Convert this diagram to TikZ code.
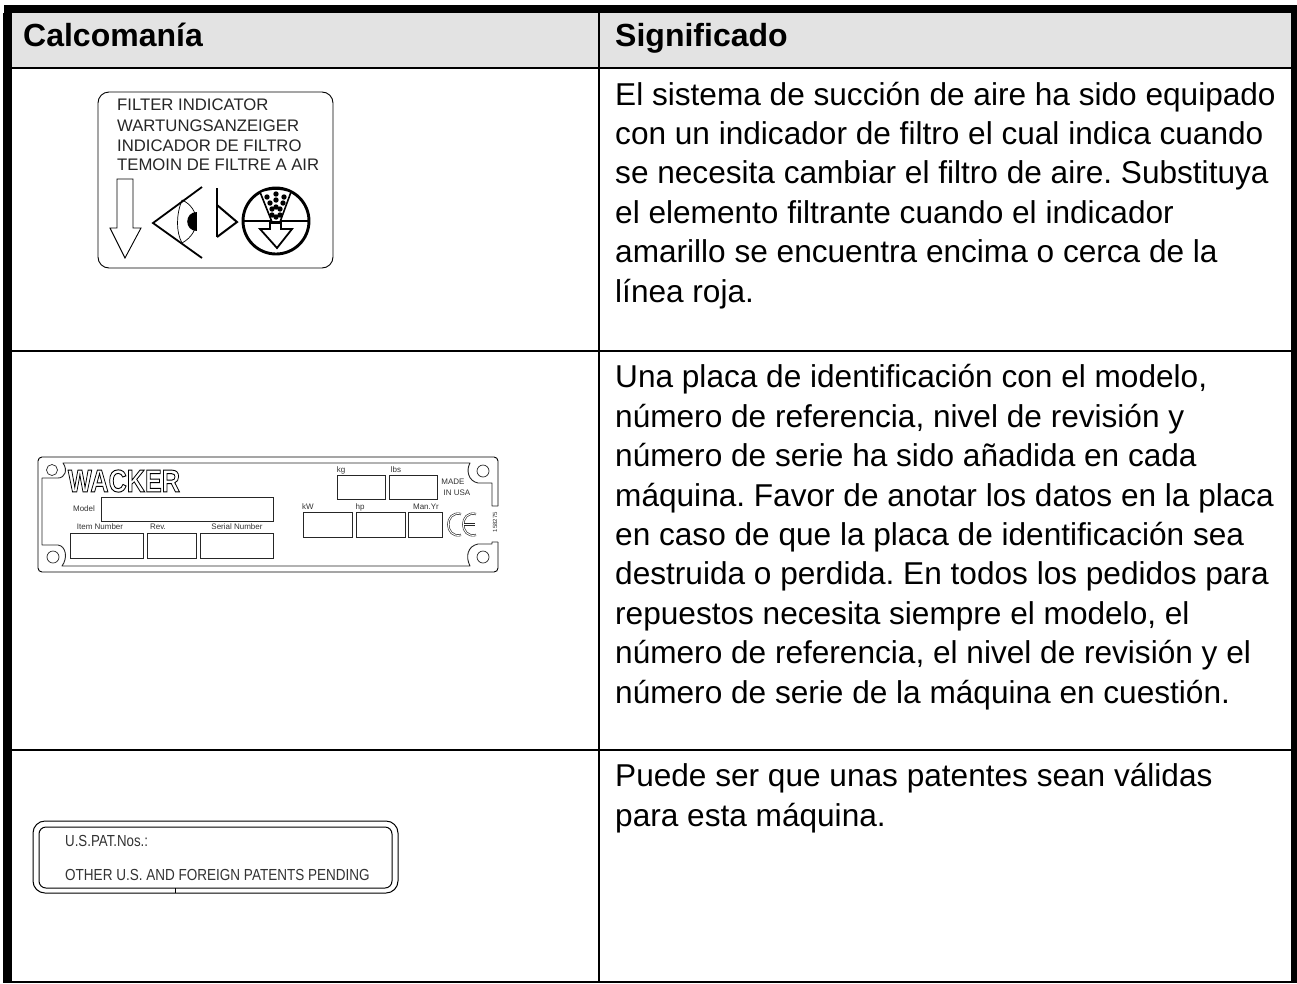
\documentclass[tikz,border=0pt]{standalone}
\usepackage{graphicx}
\usepackage{fontspec}
\setmainfont{Liberation Sans}
\frenchspacing
\newcommand{\outlinetext}[1]{\special{pdf:code 1 Tr 0.3 w}#1\special{pdf:code 0 Tr}}
\begin{document}
\begin{tikzpicture}[x=1pt,y=-1pt,
  rulefill/.style={fill=black,draw=none},
  bodytext/.style={anchor=base west,inner sep=0pt,align=left,font=\fontsize{31.6}{39.4}\selectfont},
  headtext/.style={anchor=base west,inner sep=0pt,font=\fontsize{32}{36}\selectfont\bfseries},
  decal/.style={draw=black,line width=1.1pt},
  box/.style={draw=black!85,line width=.9pt},
  small/.style={inner sep=0pt,font=\fontsize{8}{9}\selectfont,text=black!80},
  filtertext/.style={anchor=west,inner sep=0pt,font=\fontsize{16.7}{18}\selectfont,text=black!85},
  pattext/.style={anchor=west,inner sep=0pt,font=\fontsize{16}{17}\selectfont,text=black!80}]
\useasboundingbox (0,0) rectangle (1297,983);
\fill[white] (0,0) rectangle (1297,983);
% table
\fill[black!11] (12,13) rectangle (1291,67);
\fill[rulefill] (4,5) rectangle (1297,13);
\fill[rulefill] (3,13) rectangle (12,983);
\fill[rulefill] (1291,13) rectangle (1297,983);
\fill[rulefill] (12,67) rectangle (1291,69);
\fill[rulefill] (12,350) rectangle (1291,352);
\fill[rulefill] (12,749) rectangle (1291,751);
\fill[rulefill] (598,13) rectangle (600,983);
\fill[rulefill] (3,981) rectangle (1297,983);
\node[headtext] (h1) at (23,46) {Calcomanía};
\node[headtext] (h2) at (615,46) {Significado};
\node[bodytext] (t1) at (615,302) {El sistema de succión de aire ha sido equipado\\con un indicador de filtro el cual indica cuando\\se necesita cambiar el filtro de aire. Substituya\\el elemento filtrante cuando el indicador\\amarillo se encuentra encima o cerca de la\\línea roja.};
\node[bodytext] (t2) at (615,703) {Una placa de identificación con el modelo,\\número de referencia, nivel de revisión y\\número de serie ha sido añadida en cada\\máquina. Favor de anotar los datos en la placa\\en caso de que la placa de identificación sea\\destruida o perdida. En todos los pedidos para\\repuestos necesita siempre el modelo, el\\número de referencia, el nivel de revisión y el\\número de serie de la máquina en cuestión.};
\node[bodytext] (t3) at (615,826) {Puede ser que unas patentes sean válidas\\para esta máquina.};
% filter decal
\draw[decal,line width=.9pt,rounded corners=11pt] (98,92) rectangle (333,268);
\node[filtertext] (f1) at (117,105) {FILTER INDICATOR};
\node[filtertext] (f2) at (117,125.5) {WARTUNGSANZEIGER};
\node[filtertext] (f3) at (117,145.5) {INDICADOR DE FILTRO};
\node[filtertext] (f4) at (117,165) {TEMOIN DE FILTRE A AIR};
\draw[decal,line width=.9pt] (117,179) -- (133,179) -- (133,228) -- (141,228) -- (125,258) -- (110,228) -- (117,228) -- cycle;
\draw[decal,line width=1.8pt] (202,187) -- (153,223) -- (202,258);
\draw[decal,line width=.7pt] (182,200) .. controls (176,215) and (176,232) .. (182,243);
\draw[decal,line width=.7pt] (182,200) .. controls (200,208) and (202,232) .. (182,243);
\fill[black] (197,212) .. controls (184,212) and (184,231) .. (197,231) -- cycle;
\draw[decal,line width=2pt] (217,188) -- (217,237);
\draw[decal,line width=2pt] (217,205) -- (237,222) -- (217,237);
\draw[decal,line width=2.9pt] (276,221) circle (33);
\draw[decal,line width=2.6pt] (243,221) -- (309,221);
\fill[white,draw=black,line width=1.6pt] (260,192) .. controls (270,188) and (282,188) .. (291,192) -- (280,222) -- (272,222) -- cycle;
\foreach \px/\py in {267/197,276/194,284/197,270/203,276/200,283/203,272/209,280/209,276/207,272/215,280/215,276/217}
  \fill[black] (\px,\py) circle (2.7);
\draw[decal,line width=1.8pt,fill=white] (270,223) -- (281,223) -- (281,229) -- (292,229) -- (277,248) -- (260,229) -- (270,229) -- cycle;
% WACKER plate
\draw[decal,line width=.9pt,rounded corners=4pt] (498,506) -- (498,457) -- (38,457) -- (38,572) -- (498,572) -- (498,542);
\draw[box,line width=.9pt,line join=round] (498,506) -- (492,506) -- (492,483) -- (478,483)
  .. controls (468,481) and (466,470) .. (470,463) -- (63,463)
  .. controls (68,470) and (65,478) .. (58,478) -- (42,478) -- (42,545) -- (58,545)
  .. controls (66,546) and (68,558) .. (62,566) -- (470,566)
  .. controls (465,556) and (468,546) .. (478,544) -- (492,544) -- (492,542) -- (498,542);
\draw[box,line width=.7pt] (52,470) circle (5.5) (53,557) circle (6) (483,471) circle (6) (483,557) circle (6);
\node[inner sep=0pt] (w) at (124,481) {\resizebox{112pt}{22pt}{\bfseries\outlinetext{WACKER}}};
\draw[box] (101,497) rectangle (273,521);
\draw[box] (70,533) rectangle (143,558);
\draw[box] (147,533) rectangle (196,558);
\draw[box] (200,533) rectangle (273,558);
\draw[box] (337,475) rectangle (385,499);
\draw[box] (389,475) rectangle (437,499);
\draw[box] (303,512) rectangle (352,537);
\draw[box] (356,512) rectangle (405,537);
\draw[box] (408,512) rectangle (442,537);
\node[small] (l1) at (84,509) {Model};
\node[small] (l2) at (100,527) {Item Number};
\node[small] (l3) at (158,527) {Rev.};
\node[small] (l4) at (237,527) {Serial Number};
\node[small] (l5) at (341,470) {kg};
\node[small] (l6) at (396,470) {lbs};
\node[small] (l7) at (308,507) {kW};
\node[small] (l8) at (360,507) {hp};
\node[small] (l9) at (426,507) {Man.Yr};
\node[small] (l10) at (453,482) {MADE};
\node[small] (l11) at (457,493) {IN USA};
\node[small,rotate=90,font=\fontsize{6}{7}\selectfont] (l12) at (495,522) {158275};
\draw[box,line width=.6pt,double,double distance=1pt] (461,514) .. controls (444,510) and (444,539) .. (461,535);
\draw[box,line width=.6pt,double,double distance=1pt] (476,514) .. controls (459,510) and (459,539) .. (476,535);
\draw[box,line width=.6pt,double,double distance=1pt] (464,524.5) -- (475,524.5);
% patent decal
\draw[decal,line width=1pt,rounded corners=12pt] (33,821) rectangle (398,893);
\draw[decal,line width=1pt,rounded corners=7pt] (39,827) rectangle (392,888);
\draw[decal,line width=.8pt] (175,888) -- (175,893);
\node[pattext] (p1) at (65,841) {\scalebox{.83}[1]{U.S.PAT.Nos.:}};
\node[pattext] (p2) at (65,875) {\scalebox{.845}[1]{OTHER U.S. AND FOREIGN PATENTS PENDING}};
\end{tikzpicture}
\end{document}
